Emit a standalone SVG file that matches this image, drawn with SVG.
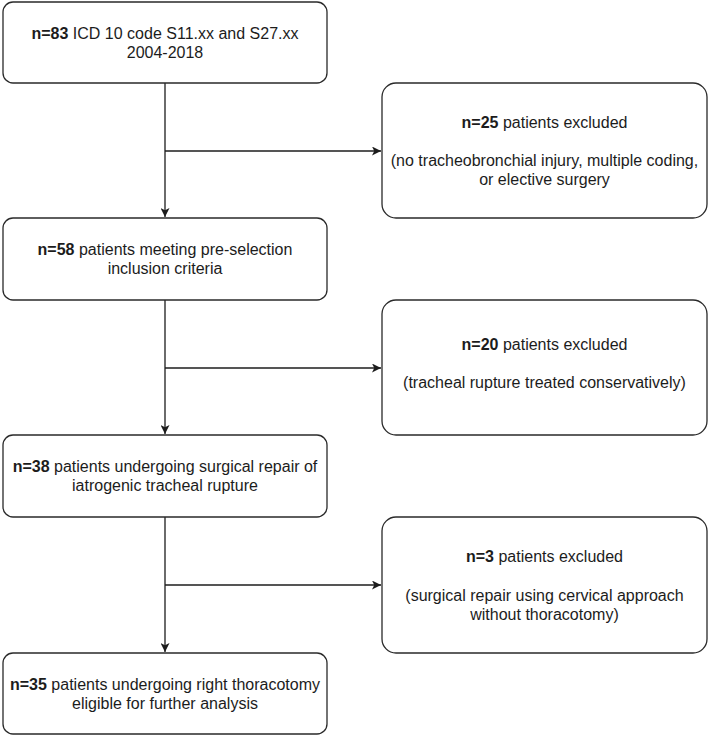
<svg xmlns="http://www.w3.org/2000/svg" width="709" height="736" viewBox="0 0 709 736">
<style>
.box{fill:#fff;stroke:#2a2a2a;stroke-width:1.3}
.t{font-family:"Liberation Sans",Arial,Helvetica,sans-serif;font-size:16px;fill:#1c1c1c;text-anchor:middle}
.b{font-weight:bold}
.c{fill:none;stroke:#1c1c1c;stroke-width:1.3}
</style>
<defs>
<marker id="arr" viewBox="0 0 10 10" refX="10" refY="5" markerWidth="9" markerHeight="9" markerUnits="userSpaceOnUse" orient="auto">
<path d="M0,0 L10,5 L0,10 L2.5,5 Z" fill="#1c1c1c"/>
</marker>
</defs>
<rect width="709" height="736" fill="#fff"/>
<g id="connectors">
<path class="c" d="M165,83 V217" marker-end="url(#arr)"/>
<path class="c" d="M165,151 H381" marker-end="url(#arr)"/>
<path class="c" d="M165,300 V434" marker-end="url(#arr)"/>
<path class="c" d="M165,368 H381" marker-end="url(#arr)"/>
<path class="c" d="M165,517 V652" marker-end="url(#arr)"/>
<path class="c" d="M165,585 H381" marker-end="url(#arr)"/>
</g>
<g id="n83">
<rect class="box" x="3" y="2" width="324" height="81" rx="10"/>
<text class="t" x="165" y="38.5"><tspan class="b">n=83</tspan> ICD 10 code S11.xx and S27.xx</text>
<text class="t" x="165" y="57.7">2004-2018</text>
</g>
<g id="ex25">
<rect class="box" x="382" y="83" width="325" height="135" rx="14"/>
<text class="t" x="544.5" y="127.5"><tspan class="b">n=25</tspan> patients excluded</text>
<text class="t" x="544.5" y="166">(no tracheobronchial injury, multiple coding,</text>
<text class="t" x="544.5" y="185">or elective surgery</text>
</g>
<g id="n58">
<rect class="box" x="3" y="218" width="324" height="82" rx="10"/>
<text class="t" x="165" y="255"><tspan class="b">n=58</tspan> patients meeting pre-selection</text>
<text class="t" x="165" y="274">inclusion criteria</text>
</g>
<g id="ex20">
<rect class="box" x="382" y="300" width="325" height="135" rx="14"/>
<text class="t" x="544.5" y="350"><tspan class="b">n=20</tspan> patients excluded</text>
<text class="t" x="544.5" y="388">(tracheal rupture treated conservatively)</text>
</g>
<g id="n38">
<rect class="box" x="3" y="435" width="324" height="82" rx="10"/>
<text class="t" x="165" y="472"><tspan class="b">n=38</tspan> patients undergoing surgical repair of</text>
<text class="t" x="165" y="491">iatrogenic tracheal rupture</text>
</g>
<g id="ex3">
<rect class="box" x="382" y="517" width="325" height="136" rx="14"/>
<text class="t" x="544.5" y="562"><tspan class="b">n=3</tspan> patients excluded</text>
<text class="t" x="544.5" y="600.5">(surgical repair using cervical approach</text>
<text class="t" x="544.5" y="619.5">without thoracotomy)</text>
</g>
<g id="n35">
<rect class="box" x="3" y="653" width="324" height="81" rx="10"/>
<text class="t" x="165" y="689.5"><tspan class="b">n=35</tspan> patients undergoing right thoracotomy</text>
<text class="t" x="165" y="708.7">eligible for further analysis</text>
</g>
</svg>
